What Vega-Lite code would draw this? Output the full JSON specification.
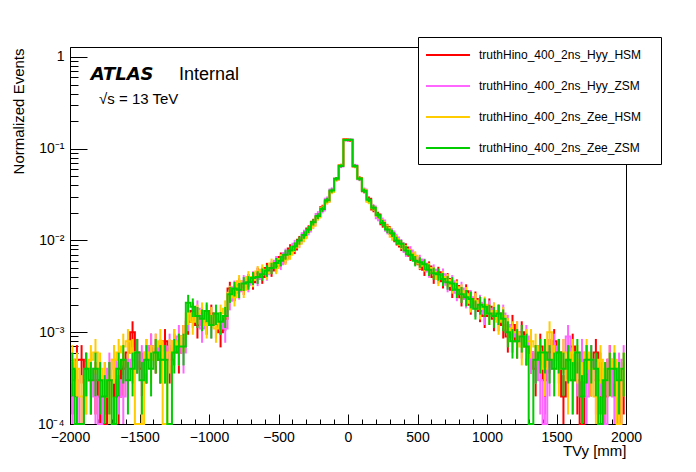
{
  "$schema": "https://vega.github.io/schema/vega-lite/v6.json",
  "width": 556,
  "height": 377,
  "autosize": {"type": "none"},
  "padding": {"left": 70, "top": 47, "right": 70, "bottom": 48},
  "background": "white",
  "config": {
    "font": "Liberation Sans",
    "view": {"stroke": "black", "strokeWidth": 1},
    "axis": {"grid": false, "domainColor": "black", "tickColor": "black", "labelColor": "black", "titleColor": "black", "labelFont": "Liberation Sans", "titleFont": "Liberation Sans", "titleFontWeight": "normal", "labelFontSize": 14, "titleFontSize": 15, "tickWidth": 1, "domainWidth": 1},
    "line": {"interpolate": "step", "strokeWidth": 2}
  },
  "data": {"values": [
    {"x":-1983.3,"s1":3e-4,"e1":1.73e-4,"s2":2e-4,"e2":1.41e-4,"s3":5e-4,"e3":2.24e-4,"s4":4e-4,"e4":2e-4},
    {"x":-1950,"s1":5e-4,"e1":2.24e-4,"s2":3e-4,"e2":1.73e-4,"s3":4e-4,"e3":2e-4,"s4":1e-4,"e4":9.9e-5},
    {"x":-1916.7,"s1":5e-4,"e1":2.24e-4,"s2":1e-4,"e2":9.9e-5,"s3":2e-4,"e3":1.41e-4,"s4":1e-6,"e4":0},
    {"x":-1883.3,"s1":4e-4,"e1":2e-4,"s2":3e-4,"e2":1.73e-4,"s3":3e-4,"e3":1.73e-4,"s4":4e-4,"e4":2e-4},
    {"x":-1850,"s1":3e-4,"e1":1.73e-4,"s2":4e-4,"e2":2e-4,"s3":5e-4,"e3":2.24e-4,"s4":3e-4,"e4":1.73e-4},
    {"x":-1816.7,"s1":3e-4,"e1":1.73e-4,"s2":2e-4,"e2":1.41e-4,"s3":6e-4,"e3":2.45e-4,"s4":4e-4,"e4":2e-4},
    {"x":-1783.3,"s1":2e-4,"e1":1.41e-4,"s2":1e-6,"e2":0,"s3":4e-4,"e3":2e-4,"s4":3e-4,"e4":1.73e-4},
    {"x":-1750,"s1":1e-6,"e1":0,"s2":3e-4,"e2":1.73e-4,"s3":3e-4,"e3":1.73e-4,"s4":2e-4,"e4":1.41e-4},
    {"x":-1716.7,"s1":3e-4,"e1":1.73e-4,"s2":4e-4,"e2":2e-4,"s3":2e-4,"e3":1.41e-4,"s4":3e-4,"e4":1.73e-4},
    {"x":-1683.3,"s1":3e-4,"e1":1.73e-4,"s2":5e-4,"e2":2.24e-4,"s3":5e-4,"e3":2.24e-4,"s4":1e-4,"e4":9.9e-5},
    {"x":-1650,"s1":2e-4,"e1":1.41e-4,"s2":3e-4,"e2":1.73e-4,"s3":6e-4,"e3":2.45e-4,"s4":4e-4,"e4":2e-4},
    {"x":-1616.7,"s1":4e-4,"e1":2e-4,"s2":2e-4,"e2":1.41e-4,"s3":7e-4,"e3":2.65e-4,"s4":5e-4,"e4":2.24e-4},
    {"x":-1583.3,"s1":6e-4,"e1":2.45e-4,"s2":4e-4,"e2":2e-4,"s3":8e-4,"e3":2.83e-4,"s4":3e-4,"e4":1.73e-4},
    {"x":-1550,"s1":1e-3,"e1":3.16e-4,"s2":5e-4,"e2":2.24e-4,"s3":6e-4,"e3":2.45e-4,"s4":4e-4,"e4":2e-4},
    {"x":-1516.7,"s1":6e-4,"e1":2.45e-4,"s2":6e-4,"e2":2.45e-4,"s3":1e-6,"e3":0,"s4":6e-4,"e4":2.45e-4},
    {"x":-1483.3,"s1":4e-4,"e1":2e-4,"s2":5e-4,"e2":2.24e-4,"s3":1e-4,"e3":9.9e-5,"s4":3e-4,"e4":1.73e-4},
    {"x":-1450,"s1":5e-4,"e1":2.24e-4,"s2":6e-4,"e2":2.45e-4,"s3":6e-4,"e3":2.45e-4,"s4":5e-4,"e4":2.24e-4},
    {"x":-1416.7,"s1":7e-4,"e1":2.65e-4,"s2":7e-4,"e2":2.65e-4,"s3":5e-4,"e3":2.24e-4,"s4":4e-4,"e4":2e-4},
    {"x":-1383.3,"s1":6e-4,"e1":2.45e-4,"s2":7e-4,"e2":2.65e-4,"s3":7e-4,"e3":2.65e-4,"s4":6e-4,"e4":2.45e-4},
    {"x":-1350,"s1":5e-4,"e1":2.24e-4,"s2":6e-4,"e2":2.45e-4,"s3":8e-4,"e3":2.83e-4,"s4":5e-4,"e4":2.24e-4},
    {"x":-1316.7,"s1":8e-4,"e1":2.83e-4,"s2":5e-4,"e2":2.24e-4,"s3":1e-6,"e3":0,"s4":5e-4,"e4":2.24e-4},
    {"x":-1283.3,"s1":5e-4,"e1":2.24e-4,"s2":7e-4,"e2":2.65e-4,"s3":6e-4,"e3":2.45e-4,"s4":1e-6,"e4":0},
    {"x":-1250,"s1":7e-4,"e1":2.65e-4,"s2":8e-4,"e2":2.83e-4,"s3":8e-4,"e3":2.83e-4,"s4":6e-4,"e4":2.45e-4},
    {"x":-1216.7,"s1":6e-4,"e1":2.45e-4,"s2":9e-4,"e2":3e-4,"s3":7e-4,"e3":2.65e-4,"s4":7e-4,"e4":2.65e-4},
    {"x":-1183.3,"s1":9e-4,"e1":3e-4,"s2":6e-4,"e2":2.45e-4,"s3":9e-4,"e3":3e-4,"s4":7e-4,"e4":2.65e-4},
    {"x":-1150,"s1":1.3e-3,"e1":3.61e-4,"s2":1.4e-3,"e2":3.74e-4,"s3":1.6e-3,"e3":4e-4,"s4":2.1e-3,"e4":4.58e-4},
    {"x":-1116.7,"s1":1.7e-3,"e1":4.12e-4,"s2":1.5e-3,"e2":3.87e-4,"s3":1.3e-3,"e3":3.61e-4,"s4":1.9e-3,"e4":4.36e-4},
    {"x":-1083.3,"s1":1.2e-3,"e1":3.46e-4,"s2":1.8e-3,"e2":4.24e-4,"s3":1.6e-3,"e3":4e-4,"s4":1.5e-3,"e4":3.87e-4},
    {"x":-1050,"s1":1.5e-3,"e1":3.87e-4,"s2":1.1e-3,"e2":3.32e-4,"s3":1.7e-3,"e3":4.12e-4,"s4":1.4e-3,"e4":3.74e-4},
    {"x":-1016.7,"s1":1.3e-3,"e1":3.61e-4,"s2":1.6e-3,"e2":4e-4,"s3":1.2e-3,"e3":3.46e-4,"s4":1.7e-3,"e4":4.12e-4},
    {"x":-983.3,"s1":1.6e-3,"e1":4e-4,"s2":1.2e-3,"e2":3.46e-4,"s3":1.5e-3,"e3":3.87e-4,"s4":1.2e-3,"e4":3.46e-4},
    {"x":-950,"s1":1.2e-3,"e1":3.46e-4,"s2":1.4e-3,"e2":3.74e-4,"s3":1.1e-3,"e3":3.32e-4,"s4":1.6e-3,"e4":4e-4},
    {"x":-916.7,"s1":1e-3,"e1":3.16e-4,"s2":1.3e-3,"e2":3.61e-4,"s3":1.6e-3,"e3":4e-4,"s4":1.3e-3,"e4":3.61e-4},
    {"x":-883.3,"s1":1.4e-3,"e1":3.74e-4,"s2":1.1e-3,"e2":3.32e-4,"s3":1.8e-3,"e3":4.24e-4,"s4":1.5e-3,"e4":3.87e-4},
    {"x":-850,"s1":3e-3,"e1":5.48e-4,"s2":2.2e-3,"e2":4.69e-4,"s3":2.7e-3,"e3":5.2e-4,"s4":2.6e-3,"e4":5.1e-4},
    {"x":-816.7,"s1":2.7e-3,"e1":5.2e-4,"s2":3.1e-3,"e2":5.57e-4,"s3":2.4e-3,"e3":4.9e-4,"s4":3e-3,"e4":5.48e-4},
    {"x":-783.3,"s1":3.3e-3,"e1":5.74e-4,"s2":2.8e-3,"e2":5.29e-4,"s3":3.6e-3,"e3":6e-4,"s4":2.9e-3,"e4":5.39e-4},
    {"x":-750,"s1":3.1e-3,"e1":5.57e-4,"s2":3.6e-3,"e2":6e-4,"s3":2.9e-3,"e3":5.39e-4,"s4":3.4e-3,"e4":5.83e-4},
    {"x":-716.7,"s1":3.7e-3,"e1":6.08e-4,"s2":3.3e-3,"e2":5.74e-4,"s3":4e-3,"e3":6.32e-4,"s4":3.5e-3,"e4":5.92e-4},
    {"x":-683.3,"s1":3.5e-3,"e1":5.92e-4,"s2":4e-3,"e2":6.32e-4,"s3":3.7e-3,"e3":6.08e-4,"s4":3.9e-3,"e4":6.24e-4},
    {"x":-650,"s1":4.4e-3,"e1":6.63e-4,"s2":3.8e-3,"e2":6.16e-4,"s3":4.6e-3,"e3":6.78e-4,"s4":4e-3,"e4":6.32e-4},
    {"x":-616.7,"s1":4e-3,"e1":6.32e-4,"s2":4.5e-3,"e2":6.71e-4,"s3":4.8e-3,"e3":6.93e-4,"s4":4.3e-3,"e4":6.56e-4},
    {"x":-583.3,"s1":5e-3,"e1":7.07e-4,"s2":4.3e-3,"e2":6.56e-4,"s3":4.4e-3,"e3":6.63e-4,"s4":4.7e-3,"e4":6.86e-4},
    {"x":-550,"s1":4.7e-3,"e1":6.86e-4,"s2":5.3e-3,"e2":7.28e-4,"s3":5.6e-3,"e3":7.48e-4,"s4":5e-3,"e4":7.07e-4},
    {"x":-516.7,"s1":5.2e-3,"e1":7.21e-4,"s2":6e-3,"e2":7.75e-4,"s3":5e-3,"e3":7.07e-4,"s4":5.7e-3,"e4":7.55e-4},
    {"x":-483.3,"s1":6.6e-3,"e1":8.12e-4,"s2":5.5e-3,"e2":7.42e-4,"s3":6.3e-3,"e3":7.94e-4,"s4":6e-3,"e4":7.75e-4},
    {"x":-450,"s1":6.4e-3,"e1":8e-4,"s2":7.3e-3,"e2":8.54e-4,"s3":6.2e-3,"e3":7.87e-4,"s4":7e-3,"e4":8.37e-4},
    {"x":-416.7,"s1":8.2e-3,"e1":9.06e-4,"s2":7.2e-3,"e2":8.49e-4,"s3":7e-3,"e3":8.37e-4,"s4":7.8e-3,"e4":8.83e-4},
    {"x":-383.3,"s1":8e-3,"e1":8.94e-4,"s2":9.2e-3,"e2":9.59e-4,"s3":8.4e-3,"e3":9.17e-4,"s4":8.6e-3,"e4":9.27e-4},
    {"x":-350,"s1":0.0102,"e1":1.01e-3,"s2":9.4e-3,"e2":9.7e-4,"s3":9.2e-3,"e3":9.59e-4,"s4":0.01,"e4":1e-3},
    {"x":-316.7,"s1":0.0108,"e1":1.04e-3,"s2":0.012,"e2":1.1e-3,"s3":0.0106,"e3":1.03e-3,"s4":0.0115,"e4":1.07e-3},
    {"x":-283.3,"s1":0.0135,"e1":1.16e-3,"s2":0.0125,"e2":1.12e-3,"s3":0.013,"e3":1.14e-3,"s4":0.0132,"e4":1.15e-3},
    {"x":-250,"s1":0.016,"e1":1.26e-3,"s2":0.0148,"e2":1.22e-3,"s3":0.0145,"e3":1.2e-3,"s4":0.0158,"e4":1.26e-3},
    {"x":-216.7,"s1":0.018,"e1":1.34e-3,"s2":0.0195,"e2":1.4e-3,"s3":0.0178,"e3":1.33e-3,"s4":0.0185,"e4":1.36e-3},
    {"x":-183.3,"s1":0.023,"e1":1.52e-3,"s2":0.0212,"e2":1.46e-3,"s3":0.0225,"e3":1.5e-3,"s4":0.022,"e4":1.48e-3},
    {"x":-150,"s1":0.0268,"e1":1.64e-3,"s2":0.0285,"e2":1.69e-3,"s3":0.0262,"e3":1.62e-3,"s4":0.0275,"e4":1.66e-3},
    {"x":-116.7,"s1":0.0345,"e1":1.86e-3,"s2":0.036,"e2":1.9e-3,"s3":0.0338,"e3":1.84e-3,"s4":0.035,"e4":1.87e-3},
    {"x":-83.3,"s1":0.047,"e1":2.17e-3,"s2":0.046,"e2":2.14e-3,"s3":0.046,"e3":2.14e-3,"s4":0.047,"e4":2.17e-3},
    {"x":-50,"s1":0.066,"e1":2.57e-3,"s2":0.064,"e2":2.53e-3,"s3":0.0655,"e3":2.56e-3,"s4":0.065,"e4":2.55e-3},
    {"x":-16.7,"s1":0.127,"e1":3.56e-3,"s2":0.124,"e2":3.52e-3,"s3":0.1255,"e3":3.54e-3,"s4":0.1245,"e4":3.53e-3},
    {"x":16.7,"s1":0.123,"e1":3.51e-3,"s2":0.126,"e2":3.55e-3,"s3":0.1245,"e3":3.53e-3,"s4":0.125,"e4":3.54e-3},
    {"x":50,"s1":0.064,"e1":2.53e-3,"s2":0.066,"e2":2.57e-3,"s3":0.0645,"e3":2.54e-3,"s4":0.065,"e4":2.55e-3},
    {"x":83.3,"s1":0.048,"e1":2.19e-3,"s2":0.0465,"e2":2.16e-3,"s3":0.0475,"e3":2.18e-3,"s4":0.047,"e4":2.17e-3},
    {"x":116.7,"s1":0.0345,"e1":1.86e-3,"s2":0.036,"e2":1.9e-3,"s3":0.0352,"e3":1.88e-3,"s4":0.0348,"e4":1.87e-3},
    {"x":150,"s1":0.0285,"e1":1.69e-3,"s2":0.0268,"e2":1.64e-3,"s3":0.0265,"e3":1.63e-3,"s4":0.0278,"e4":1.67e-3},
    {"x":183.3,"s1":0.0218,"e1":1.48e-3,"s2":0.0235,"e2":1.53e-3,"s3":0.0225,"e3":1.5e-3,"s4":0.0228,"e4":1.51e-3},
    {"x":216.7,"s1":0.0192,"e1":1.39e-3,"s2":0.0175,"e2":1.32e-3,"s3":0.0185,"e3":1.36e-3,"s4":0.0188,"e4":1.37e-3},
    {"x":250,"s1":0.015,"e1":1.22e-3,"s2":0.0165,"e2":1.28e-3,"s3":0.0158,"e3":1.26e-3,"s4":0.0155,"e4":1.24e-3},
    {"x":283.3,"s1":0.014,"e1":1.18e-3,"s2":0.0128,"e2":1.13e-3,"s3":0.0138,"e3":1.17e-3,"s4":0.0132,"e4":1.15e-3},
    {"x":316.7,"s1":0.0118,"e1":1.09e-3,"s2":0.0125,"e2":1.12e-3,"s3":0.011,"e3":1.05e-3,"s4":0.012,"e4":1.1e-3},
    {"x":350,"s1":9.8e-3,"e1":9.9e-4,"s2":0.0108,"e2":1.04e-3,"s3":0.0104,"e3":1.02e-3,"s4":0.01,"e4":1e-3},
    {"x":383.3,"s1":8.6e-3,"e1":9.27e-4,"s2":9.4e-3,"e2":9.7e-4,"s3":9e-3,"e3":9.49e-4,"s4":9.2e-3,"e4":9.59e-4},
    {"x":416.7,"s1":8.4e-3,"e1":9.17e-4,"s2":7.5e-3,"e2":8.66e-4,"s3":8e-3,"e3":8.94e-4,"s4":7.8e-3,"e4":8.83e-4},
    {"x":450,"s1":6.8e-3,"e1":8.25e-4,"s2":7.8e-3,"e2":8.83e-4,"s3":7.2e-3,"e3":8.49e-4,"s4":7e-3,"e4":8.37e-4},
    {"x":483.3,"s1":6.2e-3,"e1":7.87e-4,"s2":6.6e-3,"e2":8.12e-4,"s3":6.8e-3,"e3":8.25e-4,"s4":6e-3,"e4":7.75e-4},
    {"x":516.7,"s1":5.5e-3,"e1":7.42e-4,"s2":6.2e-3,"e2":7.87e-4,"s3":5.6e-3,"e3":7.48e-4,"s4":5.8e-3,"e4":7.62e-4},
    {"x":550,"s1":4.8e-3,"e1":6.93e-4,"s2":5.6e-3,"e2":7.48e-4,"s3":5.3e-3,"e3":7.28e-4,"s4":5.5e-3,"e4":7.42e-4},
    {"x":583.3,"s1":5.2e-3,"e1":7.21e-4,"s2":4.6e-3,"e2":6.78e-4,"s3":5e-3,"e3":7.07e-4,"s4":4.8e-3,"e4":6.93e-4},
    {"x":616.7,"s1":4e-3,"e1":6.32e-4,"s2":4.8e-3,"e2":6.93e-4,"s3":4.5e-3,"e3":6.71e-4,"s4":4.4e-3,"e4":6.63e-4},
    {"x":650,"s1":4.5e-3,"e1":6.71e-4,"s2":4e-3,"e2":6.32e-4,"s3":3.8e-3,"e3":6.16e-4,"s4":4.3e-3,"e4":6.56e-4},
    {"x":683.3,"s1":3.6e-3,"e1":6e-4,"s2":4.3e-3,"e2":6.56e-4,"s3":4e-3,"e3":6.32e-4,"s4":3.8e-3,"e4":6.16e-4},
    {"x":716.7,"s1":3.8e-3,"e1":6.16e-4,"s2":3.3e-3,"e2":5.74e-4,"s3":3.7e-3,"e3":6.08e-4,"s4":3.5e-3,"e4":5.92e-4},
    {"x":750,"s1":2.9e-3,"e1":5.39e-4,"s2":3.6e-3,"e2":6e-4,"s3":3.2e-3,"e3":5.66e-4,"s4":3.4e-3,"e4":5.83e-4},
    {"x":783.3,"s1":3.2e-3,"e1":5.66e-4,"s2":2.7e-3,"e2":5.2e-4,"s3":3.1e-3,"e3":5.57e-4,"s4":2.9e-3,"e4":5.39e-4},
    {"x":816.7,"s1":2.4e-3,"e1":4.9e-4,"s2":3e-3,"e2":5.48e-4,"s3":2.8e-3,"e3":5.29e-4,"s4":2.6e-3,"e4":5.1e-4},
    {"x":850,"s1":2.8e-3,"e1":5.29e-4,"s2":2.3e-3,"e2":4.8e-4,"s3":2.6e-3,"e3":5.1e-4,"s4":2.4e-3,"e4":4.9e-4},
    {"x":883.3,"s1":2e-3,"e1":4.47e-4,"s2":2.4e-3,"e2":4.9e-4,"s3":2.1e-3,"e3":4.58e-4,"s4":2.3e-3,"e4":4.8e-4},
    {"x":916.7,"s1":2.3e-3,"e1":4.8e-4,"s2":1.9e-3,"e2":4.36e-4,"s3":2.2e-3,"e3":4.69e-4,"s4":1.8e-3,"e4":4.24e-4},
    {"x":950,"s1":1.7e-3,"e1":4.12e-4,"s2":2.1e-3,"e2":4.58e-4,"s3":1.8e-3,"e3":4.24e-4,"s4":2e-3,"e4":4.47e-4},
    {"x":983.3,"s1":1.5e-3,"e1":3.87e-4,"s2":1.6e-3,"e2":4e-4,"s3":2e-3,"e3":4.47e-4,"s4":1.9e-3,"e4":4.36e-4},
    {"x":1016.7,"s1":1.9e-3,"e1":4.36e-4,"s2":1.8e-3,"e2":4.24e-4,"s3":1.6e-3,"e3":4e-4,"s4":1.6e-3,"e4":4e-4},
    {"x":1050,"s1":1.4e-3,"e1":3.74e-4,"s2":1.7e-3,"e2":4.12e-4,"s3":1.7e-3,"e3":4.12e-4,"s4":1.5e-3,"e4":3.87e-4},
    {"x":1083.3,"s1":1.6e-3,"e1":4e-4,"s2":1.4e-3,"e2":3.74e-4,"s3":1.3e-3,"e3":3.61e-4,"s4":1.6e-3,"e4":4e-4},
    {"x":1116.7,"s1":1.2e-3,"e1":3.46e-4,"s2":1.6e-3,"e2":4e-4,"s3":1.5e-3,"e3":3.87e-4,"s4":1.4e-3,"e4":3.74e-4},
    {"x":1150,"s1":9e-4,"e1":3e-4,"s2":1.2e-3,"e2":3.46e-4,"s3":1.1e-3,"e3":3.32e-4,"s4":1e-3,"e4":3.16e-4},
    {"x":1183.3,"s1":1.2e-3,"e1":3.46e-4,"s2":9e-4,"e2":3e-4,"s3":1e-3,"e3":3.16e-4,"s4":8e-4,"e4":2.83e-4},
    {"x":1216.7,"s1":8e-4,"e1":2.83e-4,"s2":1e-3,"e2":3.16e-4,"s3":1e-3,"e3":3.16e-4,"s4":8e-4,"e4":2.83e-4},
    {"x":1250,"s1":1e-3,"e1":3.16e-4,"s2":8e-4,"e2":2.83e-4,"s3":7e-4,"e3":2.65e-4,"s4":9e-4,"e4":3e-4},
    {"x":1283.3,"s1":7e-4,"e1":2.65e-4,"s2":9e-4,"e2":3e-4,"s3":8e-4,"e3":2.83e-4,"s4":7e-4,"e4":2.65e-4},
    {"x":1316.7,"s1":6e-4,"e1":2.45e-4,"s2":6e-4,"e2":2.45e-4,"s3":8e-4,"e3":2.83e-4,"s4":1e-6,"e4":0},
    {"x":1350,"s1":4e-4,"e1":2e-4,"s2":5e-4,"e2":2.24e-4,"s3":7e-4,"e3":2.65e-4,"s4":5e-4,"e4":2.24e-4},
    {"x":1383.3,"s1":7e-4,"e1":2.65e-4,"s2":3e-4,"e2":1.73e-4,"s3":6e-4,"e3":2.45e-4,"s4":6e-4,"e4":2.45e-4},
    {"x":1416.7,"s1":3e-4,"e1":1.73e-4,"s2":1e-4,"e2":9.9e-5,"s3":4e-4,"e3":2e-4,"s4":6e-4,"e4":2.45e-4},
    {"x":1450,"s1":6e-4,"e1":2.45e-4,"s2":4e-4,"e2":2e-4,"s3":1e-3,"e3":3.16e-4,"s4":5e-4,"e4":2.24e-4},
    {"x":1483.3,"s1":8e-4,"e1":2.83e-4,"s2":7e-4,"e2":2.65e-4,"s3":5e-4,"e3":2.24e-4,"s4":4e-4,"e4":2e-4},
    {"x":1516.7,"s1":6e-4,"e1":2.45e-4,"s2":5e-4,"e2":2.24e-4,"s3":4e-4,"e3":2e-4,"s4":6e-4,"e4":2.45e-4},
    {"x":1550,"s1":2e-4,"e1":1.41e-4,"s2":6e-4,"e2":2.45e-4,"s3":6e-4,"e3":2.45e-4,"s4":4e-4,"e4":2e-4},
    {"x":1583.3,"s1":5e-4,"e1":2.24e-4,"s2":9e-4,"e2":3e-4,"s3":3e-4,"e3":1.73e-4,"s4":5e-4,"e4":2.24e-4},
    {"x":1616.7,"s1":7e-4,"e1":2.65e-4,"s2":3e-4,"e2":1.73e-4,"s3":6e-4,"e3":2.45e-4,"s4":3e-4,"e4":1.73e-4},
    {"x":1650,"s1":3e-4,"e1":1.73e-4,"s2":4e-4,"e2":2e-4,"s3":5e-4,"e3":2.24e-4,"s4":6e-4,"e4":2.45e-4},
    {"x":1683.3,"s1":1e-6,"e1":0,"s2":6e-4,"e2":2.45e-4,"s3":3e-4,"e3":1.73e-4,"s4":2e-4,"e4":1.41e-4},
    {"x":1716.7,"s1":5e-4,"e1":2.24e-4,"s2":2e-4,"e2":1.41e-4,"s3":6e-4,"e3":2.45e-4,"s4":5e-4,"e4":2.24e-4},
    {"x":1750,"s1":4e-4,"e1":2e-4,"s2":5e-4,"e2":2.24e-4,"s3":4e-4,"e3":2e-4,"s4":5e-4,"e4":2.24e-4},
    {"x":1783.3,"s1":6e-4,"e1":2.45e-4,"s2":3e-4,"e2":1.73e-4,"s3":2e-4,"e3":1.41e-4,"s4":4e-4,"e4":2e-4},
    {"x":1816.7,"s1":3e-4,"e1":1.73e-4,"s2":4e-4,"e2":2e-4,"s3":5e-4,"e3":2.24e-4,"s4":1e-4,"e4":9.9e-5},
    {"x":1850,"s1":2e-4,"e1":1.41e-4,"s2":1e-4,"e2":9.9e-5,"s3":3e-4,"e3":1.73e-4,"s4":3e-4,"e4":1.73e-4},
    {"x":1883.3,"s1":5e-4,"e1":2.24e-4,"s2":5e-4,"e2":2.24e-4,"s3":4e-4,"e3":2e-4,"s4":4e-4,"e4":2e-4},
    {"x":1916.7,"s1":4e-4,"e1":2e-4,"s2":2e-4,"e2":1.41e-4,"s3":5e-4,"e3":2.24e-4,"s4":4e-4,"e4":2e-4},
    {"x":1950,"s1":1e-6,"e1":0,"s2":4e-4,"e2":2e-4,"s3":1e-4,"e3":9.9e-5,"s4":3e-4,"e4":1.73e-4},
    {"x":1983.3,"s1":3e-4,"e1":1.73e-4,"s2":5e-4,"e2":2.24e-4,"s3":4e-4,"e3":2e-4,"s4":4e-4,"e4":2e-4}
  ]},
  "layer": [
    {
      "mark": {"type": "line"},
      "encoding": {
        "x": {"field": "x", "type": "quantitative", "scale": {"domain": [-2000, 2000], "nice": false, "zero": false},
          "axis": {"orient": "bottom", "values": [-2000, -1500, -1000, -500, 0, 500, 1000, 1500, 2000], "format": "d", "ticks": false, "labelPadding": 6, "labelFlush": false, "labelOverlap": false, "domain": true,
            "title": "TVy [mm]", "titleAnchor": "end", "titleAlign": "right", "titleX": 556, "titleY": 31, "titleBaseline": "alphabetic"}},
        "y": {"field": "s1", "type": "quantitative", "scale": {"type": "log", "domain": [0.0001, 1.285], "nice": false, "clamp": true},
          "axis": {"orient": "left", "values": [0.0001, 0.001, 0.01, 0.1, 1], "ticks": false, "labelPadding": 6, "labelOverlap": false, "labelFlush": false,
            "labelExpr": "datum.value > 0.5 ? '1' : datum.value > 0.05 ? '10⁻¹' : datum.value > 0.005 ? '10⁻²' : datum.value > 0.0005 ? '10⁻³' : '10⁻⁴'",
            "title": "Normalized Events", "titleAngle": 270, "titleAlign": "right", "titleBaseline": "middle", "titleX": -52, "titleY": 1}},
        "color": {"datum": "truthHino_400_2ns_Hyy_HSM", "type": "nominal",
          "scale": {"domain": ["truthHino_400_2ns_Hyy_HSM", "truthHino_400_2ns_Hyy_ZSM", "truthHino_400_2ns_Zee_HSM", "truthHino_400_2ns_Zee_ZSM"], "range": ["#ff0000", "#ff66ff", "#ffcc00", "#00cc00"]},
          "legend": {"title": null, "orient": "none", "legendX": 348, "legendY": -10, "direction": "vertical", "symbolType": "M-3.14,0H3.14", "symbolSize": 196, "symbolStrokeWidth": 1.2, "symbolOffset": 12, "labelOffset": 23, "padding": 10, "rowPadding": 17, "labelFontSize": 12, "labelFont": "Liberation Sans", "labelColor": "black", "labelLimit": 0, "labelExpr": "datum.label + '\u2800'", "strokeColor": "black", "fillColor": "white", "cornerRadius": 0}}
      }
    },
    {
      "mark": {"type": "errorbar", "color": "#ff0000", "thickness": 2},
      "encoding": {
        "x": {"field": "x", "type": "quantitative", "axis": null},
        "y": {"field": "s1", "type": "quantitative", "axis": null},
        "yError": {"field": "e1"}
      }
    },
    {
      "mark": {"type": "line"},
      "encoding": {
        "x": {"field": "x", "type": "quantitative", "axis": {"orient": "bottom", "values": [-2000, -1500, -1000, -500, 0, 500, 1000, 1500, 2000], "labels": false, "domain": false, "tickSize": -10, "title": null}},
        "y": {"field": "s2", "type": "quantitative", "axis": {"orient": "left", "values": [0.0001, 0.001, 0.01, 0.1, 1], "labels": false, "domain": false, "tickSize": -17, "title": null}},
        "color": {"datum": "truthHino_400_2ns_Hyy_ZSM", "type": "nominal"}
      }
    },
    {
      "mark": {"type": "errorbar", "color": "#ff66ff", "thickness": 2},
      "encoding": {
        "x": {"field": "x", "type": "quantitative", "axis": null},
        "y": {"field": "s2", "type": "quantitative", "axis": null},
        "yError": {"field": "e2"}
      }
    },
    {
      "mark": {"type": "line"},
      "encoding": {
        "x": {"field": "x", "type": "quantitative", "axis": {"orient": "bottom", "values": [-1900, -1800, -1700, -1600, -1400, -1300, -1200, -1100, -900, -800, -700, -600, -400, -300, -200, -100, 100, 200, 300, 400, 600, 700, 800, 900, 1100, 1200, 1300, 1400, 1600, 1700, 1800, 1900], "labels": false, "domain": false, "tickSize": -5, "title": null}},
        "y": {"field": "s3", "type": "quantitative", "axis": {"orient": "left", "values": [0.0002, 0.0003, 0.0004, 0.0005, 0.0006, 0.0007, 0.0008, 0.0009, 0.002, 0.003, 0.004, 0.005, 0.006, 0.007, 0.008, 0.009, 0.02, 0.03, 0.04, 0.05, 0.06, 0.07, 0.08, 0.09, 0.2, 0.3, 0.4, 0.5, 0.6, 0.7, 0.8, 0.9], "labels": false, "domain": false, "tickSize": -8, "title": null}},
        "color": {"datum": "truthHino_400_2ns_Zee_HSM", "type": "nominal"}
      }
    },
    {
      "mark": {"type": "errorbar", "color": "#ffcc00", "thickness": 2},
      "encoding": {
        "x": {"field": "x", "type": "quantitative", "axis": null},
        "y": {"field": "s3", "type": "quantitative", "axis": null},
        "yError": {"field": "e3"}
      }
    },
    {
      "mark": {"type": "line"},
      "encoding": {
        "x": {"field": "x", "type": "quantitative", "axis": null},
        "y": {"field": "s4", "type": "quantitative", "axis": null},
        "color": {"datum": "truthHino_400_2ns_Zee_ZSM", "type": "nominal"}
      }
    },
    {
      "mark": {"type": "errorbar", "color": "#00cc00", "thickness": 2},
      "encoding": {
        "x": {"field": "x", "type": "quantitative", "axis": null},
        "y": {"field": "s4", "type": "quantitative", "axis": null},
        "yError": {"field": "e4"}
      }
    },
    {
      "data": {"values": [{}]},
      "mark": {"type": "text", "text": "ATLAS", "align": "left", "baseline": "alphabetic", "font": "DejaVu Sans", "fontSize": 18, "fontStyle": "italic", "fontWeight": "bold", "color": "black"},
      "encoding": {"x": {"datum": -1851, "type": "quantitative", "axis": null}, "y": {"datum": 0.561, "type": "quantitative", "axis": null}}
    },
    {
      "data": {"values": [{}]},
      "mark": {"type": "text", "text": "Internal", "align": "left", "baseline": "alphabetic", "font": "Liberation Sans", "fontSize": 18, "color": "black"},
      "encoding": {"x": {"datum": -1216, "type": "quantitative", "axis": null}, "y": {"datum": 0.561, "type": "quantitative", "axis": null}}
    },
    {
      "data": {"values": [{}]},
      "mark": {"type": "text", "text": "√s = 13 TeV", "align": "left", "baseline": "alphabetic", "font": "Liberation Sans", "fontSize": 15, "color": "black"},
      "encoding": {"x": {"datum": -1791, "type": "quantitative", "axis": null}, "y": {"datum": 0.307, "type": "quantitative", "axis": null}}
    }
  ],
  "resolve": {"axis": {"x": "independent", "y": "independent"}}
}
